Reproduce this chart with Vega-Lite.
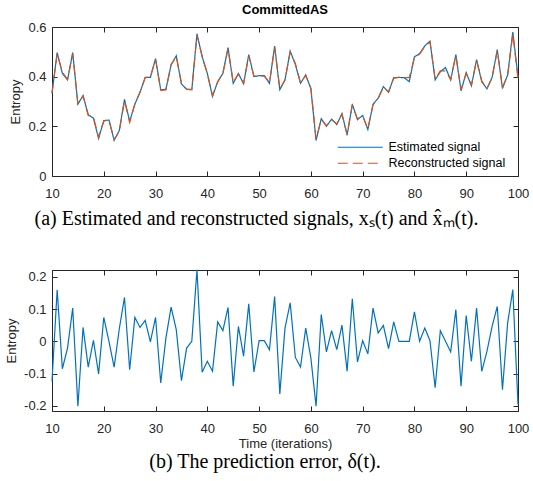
{
  "$schema": "https://vega.github.io/schema/vega-lite/v6.json",
  "padding": {"left": 5, "top": 3, "right": 2, "bottom": 5},
  "spacing": 37,
  "datasets": {
    "sig": [
      {"t":10,"Estimated signal":0.333,"Reconstructed signal":0.335,"err":-0.124},
      {"t":11,"Estimated signal":0.497,"Reconstructed signal":0.493,"err":0.160},
      {"t":12,"Estimated signal":0.413,"Reconstructed signal":0.418,"err":-0.085},
      {"t":13,"Estimated signal":0.387,"Reconstructed signal":0.389,"err":-0.021},
      {"t":14,"Estimated signal":0.497,"Reconstructed signal":0.492,"err":0.103},
      {"t":15,"Estimated signal":0.289,"Reconstructed signal":0.292,"err":-0.201},
      {"t":16,"Estimated signal":0.324,"Reconstructed signal":0.322,"err":0.043},
      {"t":17,"Estimated signal":0.247,"Reconstructed signal":0.244,"err":-0.080},
      {"t":18,"Estimated signal":0.233,"Reconstructed signal":0.238,"err":0.003},
      {"t":19,"Estimated signal":0.151,"Reconstructed signal":0.156,"err":-0.101},
      {"t":20,"Estimated signal":0.223,"Reconstructed signal":0.221,"err":0.074},
      {"t":21,"Estimated signal":0.225,"Reconstructed signal":0.226,"err":0.000},
      {"t":22,"Estimated signal":0.144,"Reconstructed signal":0.146,"err":-0.080},
      {"t":23,"Estimated signal":0.183,"Reconstructed signal":0.180,"err":0.039},
      {"t":24,"Estimated signal":0.309,"Reconstructed signal":0.303,"err":0.136},
      {"t":25,"Estimated signal":0.220,"Reconstructed signal":0.216,"err":-0.088},
      {"t":26,"Estimated signal":0.289,"Reconstructed signal":0.290,"err":0.074},
      {"t":27,"Estimated signal":0.337,"Reconstructed signal":0.338,"err":0.043},
      {"t":28,"Estimated signal":0.397,"Reconstructed signal":0.396,"err":0.065},
      {"t":29,"Estimated signal":0.397,"Reconstructed signal":0.399,"err":-0.002},
      {"t":30,"Estimated signal":0.473,"Reconstructed signal":0.469,"err":0.074},
      {"t":31,"Estimated signal":0.347,"Reconstructed signal":0.345,"err":-0.129},
      {"t":32,"Estimated signal":0.349,"Reconstructed signal":0.347,"err":0.010},
      {"t":33,"Estimated signal":0.447,"Reconstructed signal":0.449,"err":0.106},
      {"t":34,"Estimated signal":0.484,"Reconstructed signal":0.481,"err":0.036},
      {"t":35,"Estimated signal":0.371,"Reconstructed signal":0.373,"err":-0.122},
      {"t":36,"Estimated signal":0.349,"Reconstructed signal":0.349,"err":-0.021},
      {"t":37,"Estimated signal":0.347,"Reconstructed signal":0.349,"err":0.000},
      {"t":38,"Estimated signal":0.573,"Reconstructed signal":0.566,"err":0.222},
      {"t":39,"Estimated signal":0.480,"Reconstructed signal":0.483,"err":-0.096},
      {"t":40,"Estimated signal":0.413,"Reconstructed signal":0.411,"err":-0.062},
      {"t":41,"Estimated signal":0.320,"Reconstructed signal":0.324,"err":-0.093},
      {"t":42,"Estimated signal":0.380,"Reconstructed signal":0.378,"err":0.060},
      {"t":43,"Estimated signal":0.413,"Reconstructed signal":0.414,"err":0.033},
      {"t":44,"Estimated signal":0.517,"Reconstructed signal":0.512,"err":0.105},
      {"t":45,"Estimated signal":0.373,"Reconstructed signal":0.377,"err":-0.139},
      {"t":46,"Estimated signal":0.413,"Reconstructed signal":0.411,"err":0.046},
      {"t":47,"Estimated signal":0.371,"Reconstructed signal":0.373,"err":-0.046},
      {"t":48,"Estimated signal":0.489,"Reconstructed signal":0.485,"err":0.116},
      {"t":49,"Estimated signal":0.400,"Reconstructed signal":0.402,"err":-0.095},
      {"t":50,"Estimated signal":0.404,"Reconstructed signal":0.404,"err":0.002},
      {"t":51,"Estimated signal":0.404,"Reconstructed signal":0.402,"err":0.002},
      {"t":52,"Estimated signal":0.373,"Reconstructed signal":0.376,"err":-0.026},
      {"t":53,"Estimated signal":0.523,"Reconstructed signal":0.517,"err":0.139},
      {"t":54,"Estimated signal":0.347,"Reconstructed signal":0.351,"err":-0.163},
      {"t":55,"Estimated signal":0.387,"Reconstructed signal":0.386,"err":0.041},
      {"t":56,"Estimated signal":0.503,"Reconstructed signal":0.499,"err":0.119},
      {"t":57,"Estimated signal":0.449,"Reconstructed signal":0.453,"err":-0.050},
      {"t":58,"Estimated signal":0.373,"Reconstructed signal":0.375,"err":-0.080},
      {"t":59,"Estimated signal":0.407,"Reconstructed signal":0.405,"err":0.041},
      {"t":60,"Estimated signal":0.351,"Reconstructed signal":0.354,"err":-0.052},
      {"t":61,"Estimated signal":0.143,"Reconstructed signal":0.149,"err":-0.201},
      {"t":62,"Estimated signal":0.231,"Reconstructed signal":0.228,"err":0.083},
      {"t":63,"Estimated signal":0.200,"Reconstructed signal":0.203,"err":-0.033},
      {"t":64,"Estimated signal":0.229,"Reconstructed signal":0.227,"err":0.033},
      {"t":65,"Estimated signal":0.207,"Reconstructed signal":0.210,"err":-0.026},
      {"t":66,"Estimated signal":0.251,"Reconstructed signal":0.249,"err":0.050},
      {"t":67,"Estimated signal":0.164,"Reconstructed signal":0.168,"err":-0.093},
      {"t":68,"Estimated signal":0.289,"Reconstructed signal":0.285,"err":0.132},
      {"t":69,"Estimated signal":0.227,"Reconstructed signal":0.230,"err":-0.064},
      {"t":70,"Estimated signal":0.244,"Reconstructed signal":0.242,"err":0.002},
      {"t":71,"Estimated signal":0.187,"Reconstructed signal":0.190,"err":-0.039},
      {"t":72,"Estimated signal":0.289,"Reconstructed signal":0.286,"err":0.103},
      {"t":73,"Estimated signal":0.313,"Reconstructed signal":0.313,"err":0.026},
      {"t":74,"Estimated signal":0.360,"Reconstructed signal":0.358,"err":0.049},
      {"t":75,"Estimated signal":0.337,"Reconstructed signal":0.339,"err":-0.023},
      {"t":76,"Estimated signal":0.396,"Reconstructed signal":0.394,"err":0.060},
      {"t":77,"Estimated signal":0.397,"Reconstructed signal":0.397,"err":0.000},
      {"t":78,"Estimated signal":0.396,"Reconstructed signal":0.396,"err":0.000},
      {"t":79,"Estimated signal":0.380,"Reconstructed signal":0.396,"err":0.000},
      {"t":80,"Estimated signal":0.480,"Reconstructed signal":0.477,"err":0.091},
      {"t":81,"Estimated signal":0.493,"Reconstructed signal":0.491,"err":0.000},
      {"t":82,"Estimated signal":0.524,"Reconstructed signal":0.521,"err":0.041},
      {"t":83,"Estimated signal":0.543,"Reconstructed signal":0.540,"err":0.002},
      {"t":84,"Estimated signal":0.387,"Reconstructed signal":0.391,"err":-0.144},
      {"t":85,"Estimated signal":0.420,"Reconstructed signal":0.423,"err":0.033},
      {"t":86,"Estimated signal":0.437,"Reconstructed signal":0.423,"err":0.000},
      {"t":87,"Estimated signal":0.387,"Reconstructed signal":0.389,"err":-0.033},
      {"t":88,"Estimated signal":0.489,"Reconstructed signal":0.485,"err":0.098},
      {"t":89,"Estimated signal":0.343,"Reconstructed signal":0.347,"err":-0.139},
      {"t":90,"Estimated signal":0.416,"Reconstructed signal":0.414,"err":0.080},
      {"t":91,"Estimated signal":0.363,"Reconstructed signal":0.366,"err":-0.062},
      {"t":92,"Estimated signal":0.469,"Reconstructed signal":0.465,"err":0.103},
      {"t":93,"Estimated signal":0.380,"Reconstructed signal":0.383,"err":-0.093},
      {"t":94,"Estimated signal":0.351,"Reconstructed signal":0.352,"err":-0.031},
      {"t":95,"Estimated signal":0.397,"Reconstructed signal":0.396,"err":0.046},
      {"t":96,"Estimated signal":0.509,"Reconstructed signal":0.504,"err":0.108},
      {"t":97,"Estimated signal":0.353,"Reconstructed signal":0.357,"err":-0.150},
      {"t":98,"Estimated signal":0.407,"Reconstructed signal":0.405,"err":0.057},
      {"t":99,"Estimated signal":0.580,"Reconstructed signal":0.572,"err":0.160},
      {"t":100,"Estimated signal":0.400,"Reconstructed signal":0.392,"err":-0.196}
    ]
  },
  "vconcat": [
    {
      "width": 466,
      "height": 149,
      "data": {"name": "sig"},
      "title": {"text": "CommittedAS", "font": "Liberation Sans", "fontSize": 13, "fontWeight": "bold", "color": "#000000", "anchor": "middle", "offset": 4},
      "transform": [{"fold": ["Estimated signal", "Reconstructed signal"], "as": ["series", "value"]}],
      "layer": [
        {
          "mark": {"type": "line", "strokeWidth": 1.2},
          "encoding": {
            "x": {"field": "t", "type": "quantitative", "scale": {"domain": [10, 100], "nice": false, "zero": false},
                  "axis": {"orient": "bottom", "values": [10,20,30,40,50,60,70,80,90,100], "format": "d", "labelFlush": false,
                           "title": "(a) Estimated and reconstructed signals, xₛ(t) and x̂ₘ(t).",
                           "titleFont": "Liberation Serif", "titleFontSize": 20, "titleColor": "#000000",
                           "titlePadding": 8, "titleX": 204}},
            "y": {"field": "value", "type": "quantitative", "scale": {"domain": [0, 0.6], "nice": false, "zero": false},
                  "axis": {"orient": "left", "values": [0, 0.2, 0.4, 0.6], "title": "Entropy", "titlePadding": 5,
                           "labelExpr": "datum.value == 0 ? '0' : format(datum.value, '.1f')"}},
            "color": {"field": "series", "type": "nominal",
                      "scale": {"domain": ["Estimated signal", "Reconstructed signal"], "range": ["#0072BD", "#D95319"]},
                      "legend": {"title": null, "orient": "none", "legendX": 302, "legendY": 114, "symbolType": "M-4.5,0H4.5",
                                 "symbolSize": 100, "symbolStrokeWidth": 1.2, "labelFont": "Liberation Sans", "labelFontSize": 12.5,
                                 "labelColor": "#000000", "labelOffset": 22, "rowPadding": 3, "padding": 0}},
            "strokeDash": {"field": "series", "type": "nominal",
                           "scale": {"domain": ["Estimated signal", "Reconstructed signal"], "range": [[1, 0], [10, 5]]},
                           "legend": {"title": null, "orient": "none", "legendX": 302, "legendY": 114, "symbolType": "M-4.5,0H4.5",
                                      "symbolSize": 100, "symbolStrokeWidth": 1.2, "labelFont": "Liberation Sans", "labelFontSize": 12.5,
                                      "labelColor": "#000000", "labelOffset": 22, "rowPadding": 3, "padding": 0}}
          }
        },
        {
          "mark": {"type": "line", "opacity": 0},
          "encoding": {
            "x": {"field": "t", "type": "quantitative", "axis": {"orient": "top", "values": [10,20,30,40,50,60,70,80,90,100], "labels": false, "title": null}},
            "y": {"field": "value", "type": "quantitative", "axis": {"orient": "right", "values": [0, 0.2, 0.4, 0.6], "labels": false, "title": null}},
            "detail": {"field": "series", "type": "nominal"}
          }
        }
      ],
      "resolve": {"axis": {"x": "independent", "y": "independent"}}
    },
    {
      "width": 466,
      "height": 141,
      "data": {"name": "sig"},
      "title": {"text": "(b) The prediction error, δ(t).", "orient": "bottom", "font": "Liberation Serif", "fontSize": 20, "fontWeight": "normal", "color": "#000000", "anchor": "middle", "dx": -20, "offset": 2},
      "layer": [
        {
          "mark": {"type": "line", "strokeWidth": 1.2, "color": "#0072BD"},
          "encoding": {
            "x": {"field": "t", "type": "quantitative", "scale": {"domain": [10, 100], "nice": false, "zero": false},
                  "axis": {"orient": "bottom", "values": [10,20,30,40,50,60,70,80,90,100], "format": "d", "labelFlush": false,
                           "title": "Time (iterations)", "titleFontSize": 13, "titlePadding": 2}},
            "y": {"field": "err", "type": "quantitative", "scale": {"domain": [-0.216, 0.221], "nice": false, "zero": false},
                  "axis": {"orient": "left", "values": [-0.2, -0.1, 0, 0.1, 0.2], "title": "Entropy", "titlePadding": 5,
                           "labelExpr": "datum.value == 0 ? '0' : (datum.value < 0 ? '-' + format(-datum.value, '.1f') : format(datum.value, '.1f'))"}}
          }
        },
        {
          "mark": {"type": "line", "opacity": 0},
          "encoding": {
            "x": {"field": "t", "type": "quantitative", "axis": {"orient": "top", "values": [10,20,30,40,50,60,70,80,90,100], "labels": false, "title": null}},
            "y": {"field": "err", "type": "quantitative", "axis": {"orient": "right", "values": [-0.2, -0.1, 0, 0.1, 0.2], "labels": false, "title": null}}
          }
        }
      ],
      "resolve": {"axis": {"x": "independent", "y": "independent"}}
    }
  ],
  "config": {
    "font": "Liberation Sans",
    "view": {"stroke": "#262626", "strokeWidth": 1},
    "axis": {
      "domain": false, "grid": false, "ticks": true, "tickSize": 5, "offset": -5, "tickColor": "#262626", "tickWidth": 1,
      "labelFont": "Liberation Sans", "labelFontSize": 13, "labelColor": "#262626", "labelPadding": 11,
      "titleFont": "Liberation Sans", "titleFontSize": 13, "titleFontWeight": "normal", "titleColor": "#262626"
    },
    "axisLeft": {"labelPadding": 6},
    "axisRight": {"labelPadding": 6}
  }
}
